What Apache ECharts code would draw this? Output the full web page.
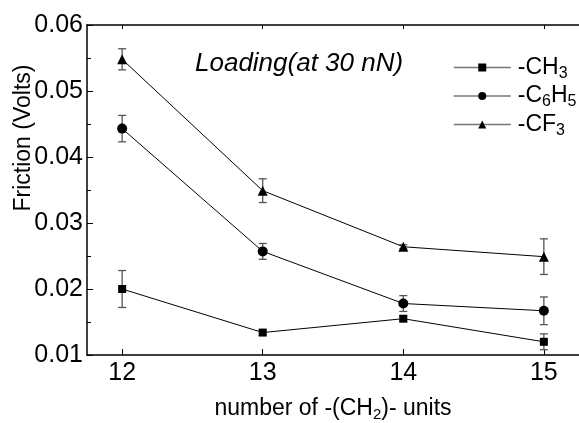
<!DOCTYPE html>
<html>
<head>
<meta charset="utf-8">
<script src="https://cdn.jsdelivr.net/npm/echarts@6/dist/echarts.min.js"></script>
<style>
  html, body { margin: 0; padding: 0; background: #fff; }
  #chart { width: 579px; height: 423px; }
</style>
</head>
<body>
<div id="chart"></div>
<script>
// chain length (number of -(CH2)- units)
var units = [12, 13, 14, 15];

// friction in volts
var ch3 = [0.0200, 0.0134, 0.0155, 0.0120];
var ch3Err = [0.0028, 0.0004, 0.0004, 0.0012];
var c6h5 = [0.0443, 0.0257, 0.0178, 0.0167];
var c6h5Err = [0.0020, 0.0012, 0.0012, 0.0021];
var cf3 = [0.0548, 0.0349, 0.0264, 0.0249];
var cf3Err = [0.0016, 0.0018, 0.0003, 0.0027];

var xTicks = [12, 13, 14, 15];
var FONT = 'Liberation Sans, Arial, sans-serif';

function points(vals) {
    return units.map(function (u, i) { return [u, vals[i]]; });
}
function bars(vals, errs) {
    return units.map(function (u, i) { return [u, vals[i] - errs[i], vals[i] + errs[i]]; });
}

function renderErr(params, api) {
    var lo = api.coord([api.value(0), api.value(1)]);
    var hi = api.coord([api.value(0), api.value(2)]);
    var cap = 4;
    var st = { stroke: '#555', lineWidth: 1.3 };
    return {
        type: 'group',
        children: [
            { type: 'line', shape: { x1: lo[0], y1: lo[1], x2: hi[0], y2: hi[1] }, style: st },
            { type: 'line', shape: { x1: lo[0] - cap, y1: lo[1], x2: lo[0] + cap, y2: lo[1] }, style: st },
            { type: 'line', shape: { x1: hi[0] - cap, y1: hi[1], x2: hi[0] + cap, y2: hi[1] }, style: st }
        ]
    };
}

function lineSeries(name, vals, symbol, size) {
    return {
        name: name,
        type: 'line',
        data: points(vals),
        symbol: symbol,
        symbolSize: size,
        showAllSymbol: true,
        lineStyle: { color: '#000', width: 1 },
        itemStyle: { color: '#000' },
        z: 3
    };
}
function errSeries(vals, errs) {
    return {
        type: 'custom',
        renderItem: renderErr,
        data: bars(vals, errs),
        encode: { x: 0, y: [1, 2] },
        silent: true,
        z: 2
    };
}

var legendNames = { 'CH3': '-CH{s|3}', 'C6H5': '-C{s|6}H{s|5}', 'CF3': '-CF{s|3}' };

var chart = echarts.init(document.getElementById('chart'));
chart.setOption({
    animation: false,
    textStyle: { fontFamily: FONT },
    grid: { left: 87, right: 0, top: 25, bottom: 68, outerBoundsMode: 'none' },
    legend: {
        orient: 'vertical',
        left: 453,
        top: 56,
        padding: 0,
        itemWidth: 57,
        itemHeight: 10,
        itemGap: 3,
        lineStyle: { color: '#777', width: 1.5 },
        formatter: function (n) { return legendNames[n]; },
        textStyle: {
            fontFamily: FONT,
            fontSize: 23,
            color: '#000',
            padding: [0, 0, 0, 2],
            rich: {
                s: { fontSize: 16, fontFamily: FONT, color: '#000', padding: [12, 0, 0, 0] }
            }
        },
        data: ['CH3', 'C6H5', 'CF3']
    },
    xAxis: [{
        type: 'value',
        min: 11.75,
        max: 15.25,
        position: 'bottom',
        splitLine: { show: false },
        axisLine: { lineStyle: { color: '#000', width: 1.5 } },
        axisTick: { inside: true, length: 6, customValues: xTicks, lineStyle: { color: '#000', width: 1 } },
        axisLabel: { customValues: xTicks, fontSize: 25, color: '#000', margin: 6, fontFamily: FONT },
        name: 'number of -(CH{s|2})- units',
        nameLocation: 'middle',
        nameGap: 40,
        nameTextStyle: {
            fontSize: 23,
            color: '#000',
            fontFamily: FONT,
            rich: { s: { fontSize: 15, fontFamily: FONT, color: '#000', padding: [12, 0, 0, 0] } }
        }
    }, {
        type: 'value',
        min: 11.75,
        max: 15.25,
        position: 'top',
        splitLine: { show: false },
        axisLine: { lineStyle: { color: '#000', width: 1.5 } },
        axisTick: { inside: true, length: 4, customValues: xTicks, lineStyle: { color: '#000', width: 1 } },
        axisLabel: { show: false, customValues: xTicks }
    }],
    yAxis: {
        type: 'value',
        min: 0.01,
        max: 0.06,
        interval: 0.01,
        splitLine: { show: false },
        axisLine: { show: true, lineStyle: { color: '#000', width: 1.5 } },
        axisTick: { show: true, inside: true, length: 6, lineStyle: { color: '#000', width: 1 } },
        minorTick: { show: true, splitNumber: 2, length: 4, lineStyle: { color: '#000', width: 1 } },
        axisLabel: {
            fontSize: 25,
            color: '#000',
            margin: 4,
            fontFamily: FONT,
            formatter: function (v) { return v.toFixed(2); }
        }
    },
    graphic: [{
        type: 'text',
        x: 24,
        y: 138,
        rotation: Math.PI / 2,
        style: {
            text: 'Friction (Volts)',
            font: '23px ' + FONT,
            fill: '#000',
            align: 'center',
            verticalAlign: 'middle'
        },
        z: 10
    }, {
        type: 'text',
        x: 195,
        y: 64,
        style: {
            text: 'Loading(at 30 nN)',
            font: 'italic 26px ' + FONT,
            fill: '#000',
            align: 'left',
            verticalAlign: 'middle'
        }
    }],
    series: [
        errSeries(ch3, ch3Err),
        errSeries(c6h5, c6h5Err),
        errSeries(cf3, cf3Err),
        lineSeries('CH3', ch3, 'rect', 8),
        lineSeries('C6H5', c6h5, 'circle', 10),
        lineSeries('CF3', cf3, 'triangle', 10)
    ]
});
</script>
</body>
</html>
